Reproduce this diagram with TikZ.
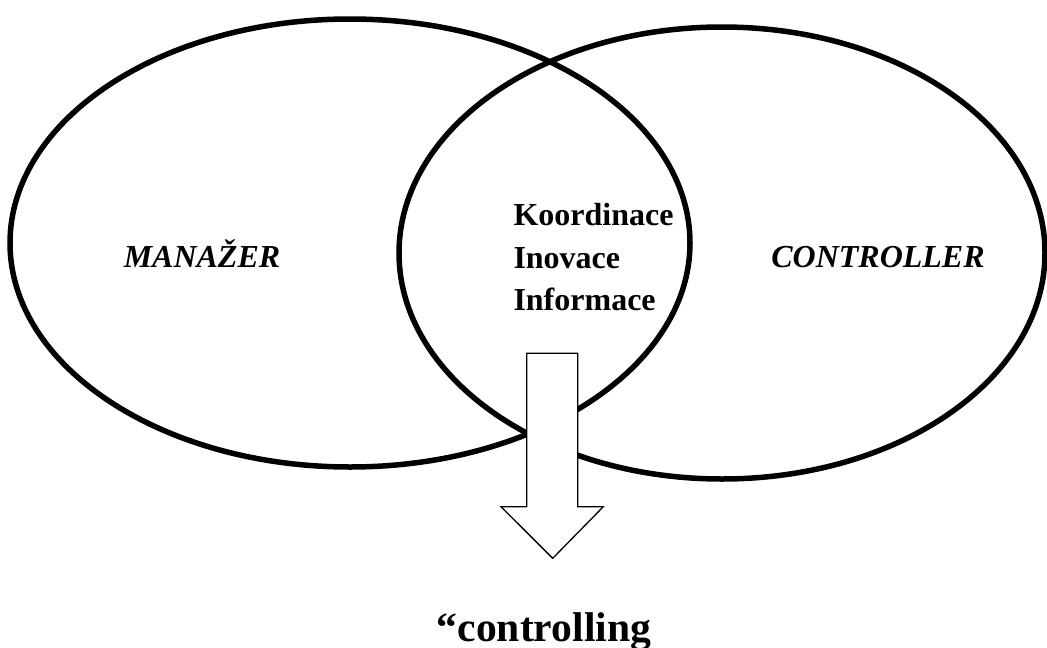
\documentclass[tikz,border=0pt]{standalone}
\usepackage{fontspec}
\setmainfont{Liberation Serif}
\begin{document}
\begin{tikzpicture}[x=1pt,y=-1pt,
  ring/.style={line width=5.5pt},
  lbl/.style={font=\fontsize{32}{40}\selectfont\bfseries\itshape, inner sep=0pt},
  item/.style={font=\fontsize{32}{40}\selectfont\bfseries, inner sep=0pt, anchor=base west},
  bigarrow/.style={draw, fill=white, line width=1.3pt, line join=miter}]
\useasboundingbox (0,0) rectangle (1047,648);
\draw[ring] (350,243) ellipse [x radius=340, y radius=224];
\draw[ring] (722,253) ellipse [x radius=323, y radius=226];
\node[lbl, anchor=base] (man) at (202,267) {MANAŽER};
\node[lbl, anchor=base] (con) at (878,267) {CONTROLLER};
\node[item] (k1) at (513.3,225.7) {Koordinace};
\node[item] (k2) at (513.3,268.3) {Inovace};
\node[item] (k3) at (513.3,310) {Informace};
\draw[bigarrow] (526.7,353.3) -- (577.7,353.3) -- (577.7,506.7) -- (603.3,506.7)
  -- (552.7,558.3) -- (501,506.7) -- (526.7,506.7) -- cycle;
\node[font=\fontsize{41.6}{48}\selectfont\bfseries, inner sep=0pt, anchor=base] (ctl) at (544,641.7) {“controlling};
\end{tikzpicture}
\end{document}
